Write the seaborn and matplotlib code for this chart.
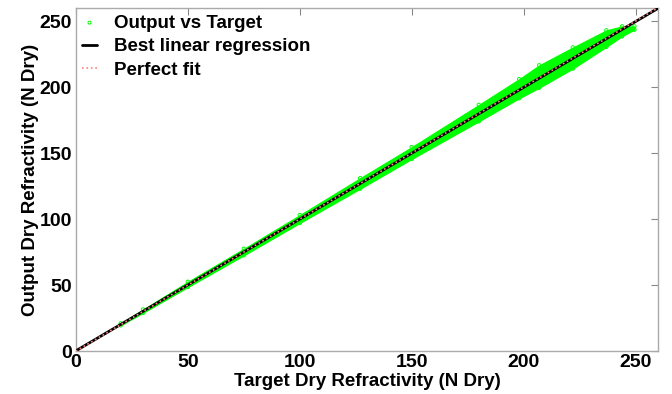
import matplotlib
matplotlib.use("Agg")
import matplotlib.pyplot as plt
import seaborn as sns
import pandas as pd

# Envelope of the output-vs-target cloud (N Dry units)
target_env = [20, 30, 50, 75, 100, 127, 150, 180, 198, 207, 222, 237, 244, 249.5]
output_low = [19.5, 29, 48.5, 72.5, 97, 123, 145.5, 174, 191.5, 199.5, 214, 230.5, 238.5, 243.5]
output_high = [21, 31.5, 52.5, 77.5, 103, 131, 154.5, 186.5, 206, 216.5, 230, 243, 246, 246]

# Regression line and perfect-fit line end points
fit_x = [0, 260]
reg_y = [0.2, 259.6]
ideal_y = [0, 260]

x_ticks = [0, 50, 100, 150, 200, 250]
y_ticks = [0, 50, 100, 150, 200, 250]

sns.set_style("white")
plt.rcParams["font.family"] = ["Liberation Sans", "DejaVu Sans"]
plt.rcParams["font.weight"] = "bold"
plt.rcParams["text.color"] = "black"
plt.rcParams["axes.labelcolor"] = "black"
plt.rcParams["xtick.color"] = "black"
plt.rcParams["ytick.color"] = "black"

fig = plt.figure(figsize=(6.72, 3.94), dpi=100)
ax = fig.add_axes([0.113, 0.109, 0.866, 0.871])

green = "#00ff00"
ax.fill_between(target_env, output_low, output_high, color=green, lw=0.8,
                edgecolor=green, zorder=2)

pts = pd.DataFrame({
    "target": target_env + target_env,
    "output": output_low + output_high,
})
sns.scatterplot(data=pts, x="target", y="output", ax=ax, marker="o", s=6,
                facecolors="none", edgecolor=green, linewidth=0.7,
                label="Output vs Target", zorder=1.5)

sns.lineplot(x=fit_x, y=reg_y, ax=ax, color="black", lw=2,
             label="Best linear regression", zorder=4)
sns.lineplot(x=fit_x, y=ideal_y, ax=ax, color="#ff8080", lw=1.2, ls=":",
             label="Perfect fit", zorder=5)

ax.set_xlim(0, 260)
ax.set_ylim(0, 260)
ax.set_xticks(x_ticks)
ax.set_yticks(y_ticks)
ax.tick_params(direction="in", length=5, width=0.8, color="#888888",
               labelcolor="black", top=True, right=True, labelsize=14, pad=2)
ax.tick_params(axis="y", pad=3)
for lab in ax.get_xticklabels() + ax.get_yticklabels():
    lab.set_fontweight("bold")
for sp in ax.spines.values():
    sp.set_color("#aaaaaa")
    sp.set_linewidth(1)

ax.set_xlabel("Target Dry Refractivity (N Dry)", fontsize=13.5,
              fontweight="bold", labelpad=1.5, color="black")
ax.set_ylabel("Output Dry Refractivity (N Dry)", fontsize=13.5,
              fontweight="bold", labelpad=0, color="black")

leg = ax.legend(loc="upper left", frameon=False, fontsize=13.5,
                handlelength=0.75, handletextpad=0.95, borderaxespad=0.0,
                borderpad=0.35, labelspacing=0.35, markerscale=0.9)
for t in leg.get_texts():
    t.set_fontweight("bold")
    t.set_color("black")

fig.savefig("out.png", dpi=100)
